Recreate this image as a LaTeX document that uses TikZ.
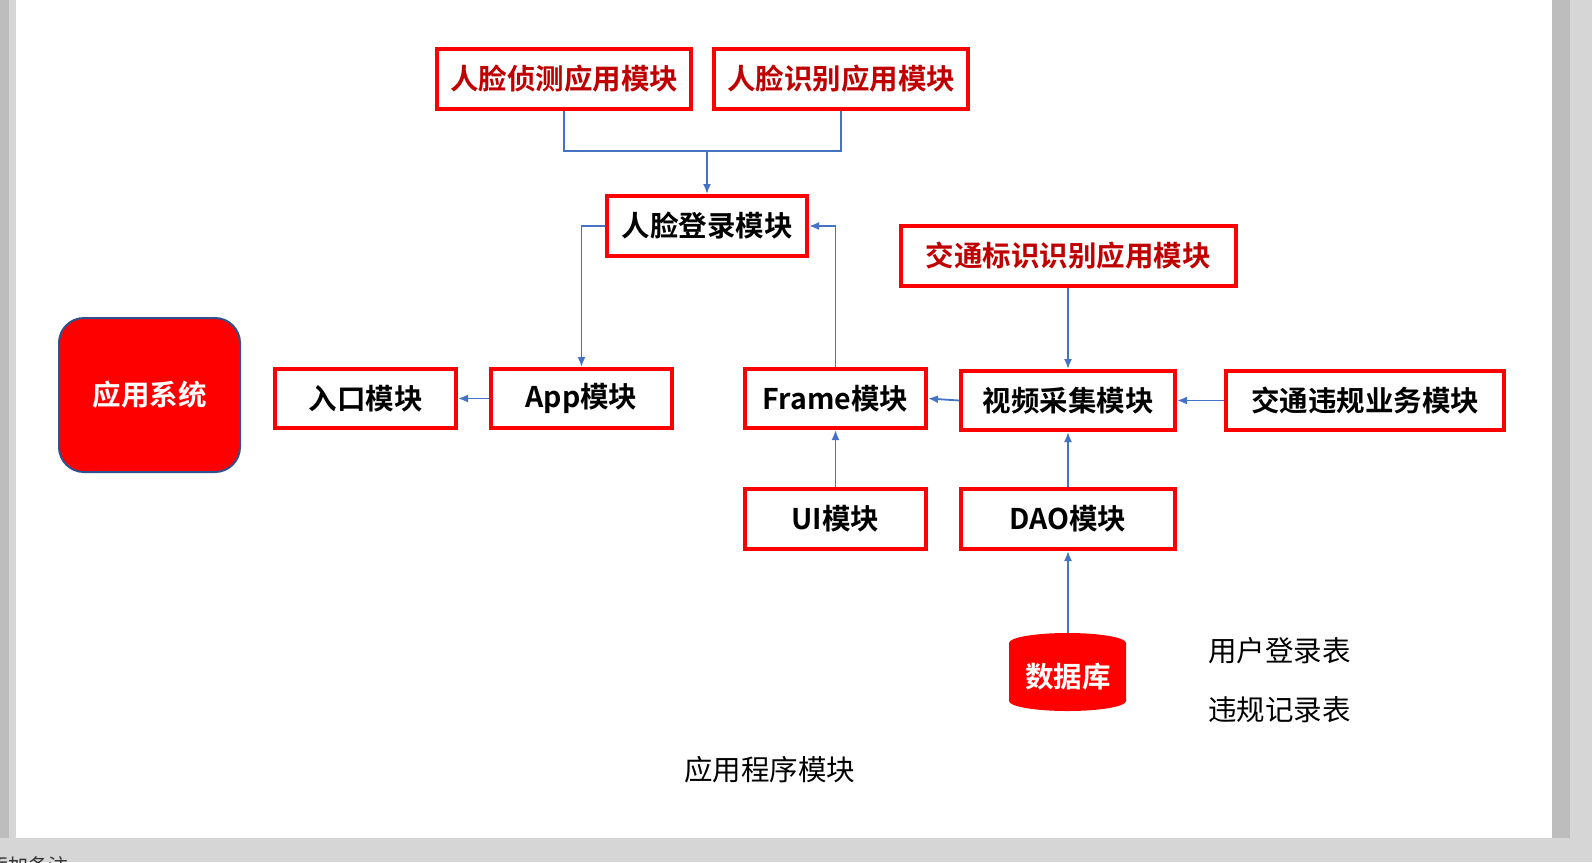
\documentclass[tikz,border=0pt]{standalone}
\usepackage{fontspec}
\setmainfont{Noto Sans CJK SC}[BoldFont=Noto Sans CJK SC Bold]
\usetikzlibrary{arrows.meta}
\definecolor{boxred}{HTML}{FF0000}
\definecolor{txtred}{HTML}{C00000}
\definecolor{conn}{HTML}{4472C4}
\definecolor{edgeblue}{HTML}{2F528F}
\definecolor{uigray}{HTML}{D6D6D6}
\definecolor{uidark}{HTML}{BDBDBD}
\tikzset{
  modbox/.style={draw=boxred, line width=4pt, fill=white, inner sep=0pt,
    font=\bfseries\fontsize{28.5}{34}\selectfont},
  redtxt/.style={text=txtred},
  link/.style={draw=conn, line width=1.8pt},
  arr/.style={link, -{Latex[length=10pt,width=8pt]}},
  plain/.style={font=\fontsize{28.5}{34}\selectfont, inner sep=0pt}
}
\begin{document}
\begin{tikzpicture}[x=1pt,y=-1pt]
\useasboundingbox (0,0) rectangle (1592,862);
% page background
\fill[uigray] (0,0) rectangle (1592,862);
\fill[uidark] (0,0) rectangle (9,838);
\fill[uidark] (1552,0) rectangle (1570,838);
\fill[white] (16,0) rectangle (1552,838);
\node[anchor=north west, inner sep=0pt, font=\fontsize{20}{24}\selectfont, text=black!80] (note) at (-12,856) {添加备注};

% system block
\node[fill=boxred, draw=edgeblue, line width=2pt, rounded corners=25pt,
  minimum width=181pt, minimum height=154pt, text=white,
  font=\bfseries\fontsize{28.5}{34}\selectfont] (sys) at (149.5,395) {应用系统};

% modules
\node[modbox, redtxt, minimum width=254pt, minimum height=60pt] (A) at (564,79) {人脸侦测应用模块};
\node[modbox, redtxt, minimum width=254pt, minimum height=60pt] (B) at (841,79) {人脸识别应用模块};
\node[modbox, minimum width=200pt, minimum height=60pt] (C) at (707,226) {人脸登录模块};
\node[modbox, redtxt, minimum width=335pt, minimum height=60pt] (T) at (1068,256) {交通标识识别应用模块};
\node[modbox, minimum width=181pt, minimum height=59pt] (E) at (365.5,398.5) {入口模块};
\node[modbox, minimum width=181pt, minimum height=59pt] (App) at (581.5,398.5) {App模块};
\node[modbox, minimum width=181pt, minimum height=59pt] (F) at (835.5,398.5) {Frame模块};
\node[modbox, minimum width=214pt, minimum height=59pt] (V) at (1068,400.5) {视频采集模块};
\node[modbox, minimum width=278pt, minimum height=59pt] (J) at (1365,400.5) {交通违规业务模块};
\node[modbox, minimum width=181pt, minimum height=60pt] (UI) at (835.5,519) {UI模块};
\node[modbox, minimum width=214pt, minimum height=60pt] (DAO) at (1068,519) {DAO模块};

% database cylinder
\fill[boxred] (1009,643) arc[x radius=58.5, y radius=10, start angle=180, end angle=360]
  -- (1126,701) arc[x radius=58.5, y radius=10, start angle=0, end angle=180] -- cycle;
\coordinate (dbtop) at (1068,633);
\node[text=white, font=\bfseries\fontsize{28.5}{34}\selectfont, inner sep=0pt] (db) at (1068,677) {数据库};

% plain labels
\node[plain, anchor=west] (t1) at (1208,651) {用户登录表};
\node[plain, anchor=west] (t2) at (1208,710) {违规记录表};
\node[plain] (cap) at (769.5,770) {应用程序模块};

% connectors
\coordinate (j) at (707,151);
\draw[link] (A.south) |- (j) -| (B.south);
\draw[arr] (j) -- (C.north);
\draw[arr] (C.west) -| (App.north);
\draw[arr] (F.north) |- (C.east);
\draw[arr] (App.west) -- (E.east);
\draw[arr] (V.west) -- (F.east);
\draw[arr] (J.west) -- (V.east);
\draw[arr] (UI.north) -- (F.south);
\draw[arr] (DAO.north) -- (V.south);
\draw[arr] (T.south) -- (V.north);
\draw[arr] (dbtop) -- (DAO.south);
\end{tikzpicture}
\end{document}
